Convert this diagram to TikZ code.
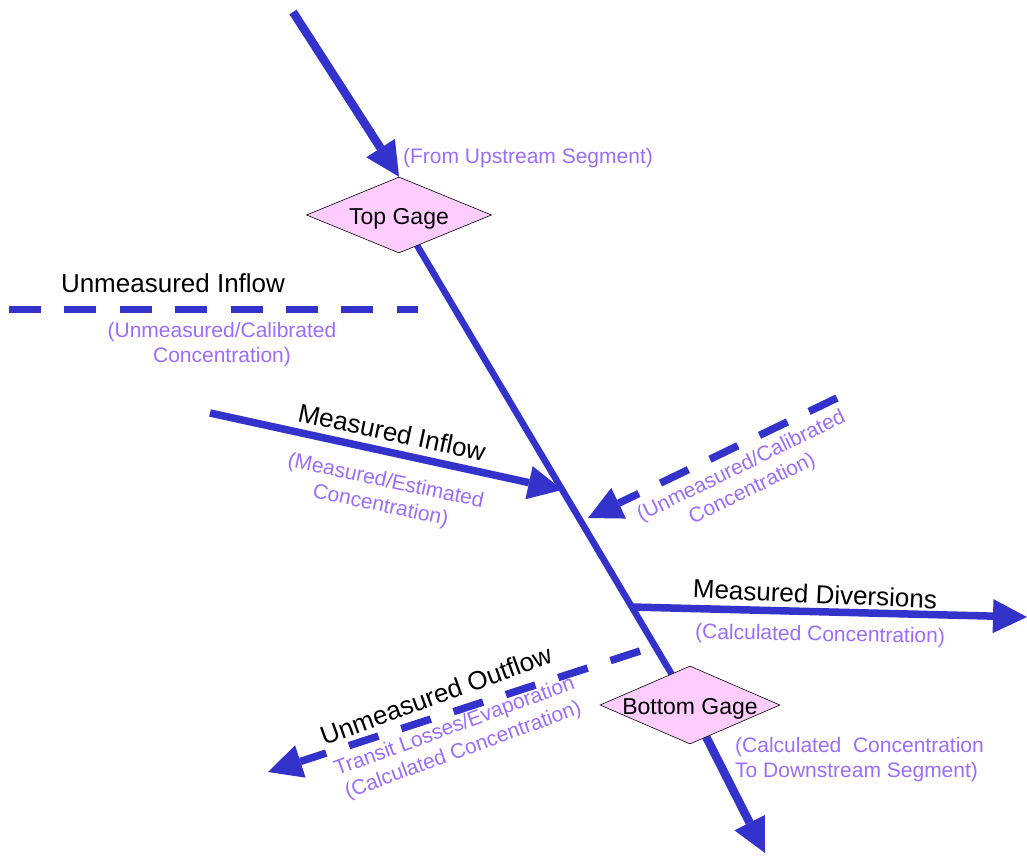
\documentclass[tikz,border=0pt]{standalone}
\usepackage{fontspec}
\setmainfont{Liberation Sans}
\usetikzlibrary{arrows.meta,shapes.geometric,backgrounds}
\definecolor{flowcol}{RGB}{51,51,204}
\definecolor{notecol}{RGB}{155,108,255}
\definecolor{gagecol}{RGB}{255,204,255}
\begin{document}
\begin{tikzpicture}[x=1pt,y=-1pt,
  gagebox/.style={diamond, draw=black, line width=0.6pt, fill=gagecol, inner sep=0pt, aspect=2.4,
    font=\fontsize{23}{27}\selectfont, text height=18pt, text depth=0pt},
  flowline/.style={draw=flowcol, line width=7.5pt},
  bigtip/.style={-{Triangle[length=34pt,width=34pt,line width=0pt]}},
  dashflow/.style={flowline, dash pattern=on 31pt off 24pt},
  lbl/.style={font=\fontsize{26}{30}\selectfont, text=black, inner sep=0pt},
  notetext/.style={font=\fontsize{21}{25}\selectfont, text=notecol, inner sep=0pt}]

\useasboundingbox (0,0) rectangle (1027,856);

% gages
\node[gagebox, minimum width=185pt, minimum height=76pt] (tg) at (399,215) {Top Gage};
\node[gagebox, minimum width=180pt, minimum height=78pt] (bg) at (690,705) {Bottom Gage};

% free ends
\coordinate (topsrc) at (293,12);
\coordinate (botend) at (765,853);
\coordinate (uisrc) at (9,309);
\coordinate (uiend) at (418,309);
\coordinate (misrc) at (210,413);
\path (tg.center) -- (bg.center) coordinate[pos=0.561] (mi) coordinate[pos=0.8] (md);
\coordinate (ursrc) at (837,398);
\coordinate (urend) at (588,518);
\coordinate (mdend) at (1027,617);
\coordinate (uosrc) at (640,651);
\coordinate (uoend) at (268,772);

\begin{pgfonlayer}{background}
  \draw[flowline, line width=6.5pt] (tg.center) -- (bg.center);
  \draw[flowline, line width=8.5pt, bigtip] (topsrc) -- (tg.north);
  \draw[flowline, line width=8.5pt, bigtip] (bg.center) -- (botend);
  \draw[flowline, line width=7pt, dash pattern=on 32pt off 23.4pt] (uisrc) -- (uiend);
  \draw[flowline, bigtip] (misrc) -- (mi);
  \draw[dashflow, bigtip] (ursrc) -- (urend);
  \draw[flowline, bigtip] (md) -- (mdend);
  \draw[dashflow, bigtip] (uosrc) -- (uoend);
\end{pgfonlayer}

% labels
\node[notetext, anchor=base] (nTop) at (528,163) {(From Upstream Segment)};
\node[lbl, anchor=base] (tUI) at (173,292) {Unmeasured Inflow};
\node[notetext, align=center] (nUI) at (222,345) {(Unmeasured/Calibrated\\Concentration)};
\node[lbl, rotate=-12] (tMI) at (392,432) {Measured Inflow};
\node[notetext, align=center, rotate=-12] (nMI) at (383,494) {(Measured/Estimated\\Concentration)};
\node[notetext, align=center, rotate=26] (nUR) at (747,478) {(Unmeasured/Calibrated\\Concentration)};
\node[lbl, rotate=-2.5] (tMD) at (815,594) {Measured Diversions};
\node[notetext, anchor=base, rotate=-1] (nMD) at (820,641) {(Calculated Concentration)};
\node[lbl, rotate=20] (tUO) at (436,695) {Unmeasured Outflow};
\node[notetext, align=center, rotate=20] (nUO) at (459,739) {Transit Losses/Evaporation\\(Calculated Concentration)};
\node[notetext, align=left, anchor=north west] (nBG) at (735,737) {(Calculated\ \ Concentration\\To Downstream Segment)};
\end{tikzpicture}
\end{document}
